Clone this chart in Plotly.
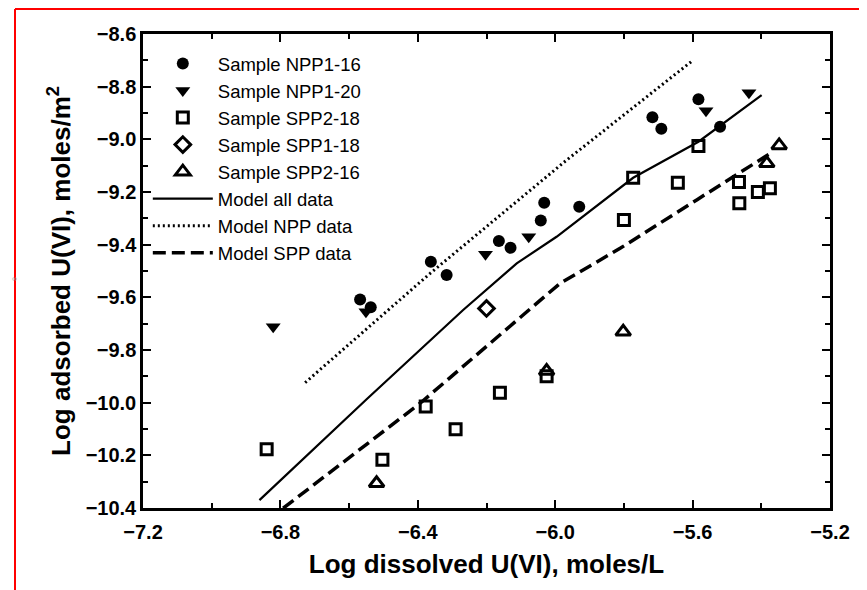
import plotly.graph_objects as go

# ---- data ----
npp116_x = [-6.568, -6.537, -6.362, -6.316, -6.164, -6.130, -6.042, -6.032, -5.930, -5.717, -5.691, -5.583, -5.520]
npp116_y = [-9.608, -9.638, -9.465, -9.515, -9.386, -9.412, -9.308, -9.241, -9.256, -8.916, -8.960, -8.848, -8.952]

npp120_x = [-6.821, -6.551, -6.203, -6.077, -5.561, -5.436]
npp120_y = [-9.712, -9.655, -9.436, -9.370, -8.891, -8.823]

spp218_x = [-6.840, -6.503, -6.377, -6.290, -6.161, -6.025, -5.800, -5.773, -5.643, -5.583, -5.465, -5.464, -5.410, -5.375]
spp218_y = [-10.177, -10.217, -10.015, -10.101, -9.962, -9.900, -9.306, -9.146, -9.165, -9.025, -9.162, -9.243, -9.200, -9.186]

spp118_x = [-6.200]
spp118_y = [-9.642]

spp216_x = [-6.520, -6.025, -5.802, -5.384, -5.348]
spp216_y = [-10.306, -9.880, -9.731, -9.091, -9.023]

model_all_x = [-6.861, -6.549, -6.268, -6.112, -5.996, -5.773, -5.583, -5.399]
model_all_y = [-10.370, -9.987, -9.648, -9.471, -9.370, -9.146, -9.009, -8.832]

model_npp_x = [-6.728, -6.364, -5.967, -5.598]
model_npp_y = [-9.924, -9.509, -9.079, -8.699]

model_spp_x = [-6.792, -6.394, -6.122, -5.986, -5.928, -5.811, -5.588, -5.377]
model_spp_y = [-10.401, -10.003, -9.699, -9.547, -9.503, -9.414, -9.230, -9.056]

x_ticks = [-7.2, -6.8, -6.4, -6.0, -5.6, -5.2]
y_ticks = [-8.6, -8.8, -9.0, -9.2, -9.4, -9.6, -9.8, -10.0, -10.2, -10.4]

FONT = "Liberation Sans, Arial, Helvetica, sans-serif"

fig = go.Figure()

fig.add_trace(go.Scatter(x=npp116_x, y=npp116_y, mode="markers", name="Sample NPP1-16",
                         marker=dict(symbol="circle", size=12, color="black")))
fig.add_trace(go.Scatter(x=npp120_x, y=npp120_y, mode="markers", name="Sample NPP1-20",
                         marker=dict(symbol="triangle-down", size=13, color="black")))
fig.add_trace(go.Scatter(x=spp218_x, y=spp218_y, mode="markers", name="Sample SPP2-18",
                         marker=dict(symbol="square-open", size=11, color="black", line=dict(width=3, color="black"))))
fig.add_trace(go.Scatter(x=spp118_x, y=spp118_y, mode="markers", name="Sample SPP1-18",
                         marker=dict(symbol="diamond-open", size=12, color="black", line=dict(width=3, color="black"))))
fig.add_trace(go.Scatter(x=spp216_x, y=spp216_y, mode="markers", name="Sample SPP2-16",
                         marker=dict(symbol="triangle-up-open", size=13, color="black", line=dict(width=3, color="black"))))
fig.add_trace(go.Scatter(x=model_all_x, y=model_all_y, mode="lines", name="Model all data",
                         line=dict(color="black", width=2.2)))
fig.add_trace(go.Scatter(x=model_npp_x, y=model_npp_y, mode="lines", name="Model NPP data",
                         line=dict(color="black", width=3, dash="2px,3px")))
fig.add_trace(go.Scatter(x=model_spp_x, y=model_spp_y, mode="lines", name="Model SPP data",
                         line=dict(color="black", width=3.5, dash="13px,6px")))

axis_common = dict(
    showgrid=False, zeroline=False, showline=True, linecolor="black", linewidth=2.5,
    mirror="ticks", ticks="inside", ticklen=8, tickwidth=2, tickcolor="black",
    tickfont=dict(family=FONT, size=20, color="black", weight="bold"),
    tickformat=".1f",
)

fig.update_xaxes(
    **axis_common,
    range=[-7.2, -5.2], tickvals=x_ticks, ticklabelstandoff=4,
    minor=dict(dtick=0.2, tick0=-7.2, ticks="inside", ticklen=5, tickwidth=2, tickcolor="black"),
    title=dict(text="Log dissolved U(VI), moles/L",
               font=dict(family=FONT, size=26, color="black", weight="bold"), standoff=14),
)
fig.update_yaxes(
    **axis_common,
    range=[-10.4, -8.6], tickvals=y_ticks,
    minor=dict(dtick=0.1, tick0=-10.4, ticks="inside", ticklen=5, tickwidth=2, tickcolor="black"),
    title=dict(text="Log adsorbed U(VI), moles/m<sup>2</sup>",
               font=dict(family=FONT, size=26, color="black", weight="bold"), standoff=8),
)

# figure geometry (page body adds an 8px offset on screen)
L, R, T, B = 135, 37, 26, 82
W, H = 859, 582
pw, ph = W - L - R, H - T - B
def px_x(p):
    return (p - L) / pw
def px_y(p):
    return 1 - (p - T) / ph

# red frame of the scanned figure
fig.add_shape(type="line", xref="paper", yref="paper",
              x0=px_x(7), x1=px_x(7), y0=px_y(1), y1=px_y(600),
              line=dict(color="red", width=2))
fig.add_shape(type="line", xref="paper", yref="paper",
              x0=px_x(7), x1=px_x(880), y0=px_y(1), y1=px_y(1),
              line=dict(color="red", width=2))
fig.add_annotation(xref="paper", yref="paper", x=px_x(2), y=px_y(270), text="∞",
                   showarrow=False, font=dict(size=7, color="#999999"))

fig.update_layout(
    width=W, height=H,
    margin=dict(l=L, r=R, t=T, b=B),
    paper_bgcolor="white", plot_bgcolor="white",
    font=dict(family=FONT, color="black"),
    showlegend=True,
    legend=dict(x=0.007, y=0.977, xanchor="left", yanchor="top",
                bgcolor="rgba(0,0,0,0)", borderwidth=0,
                font=dict(family=FONT, size=18.5, color="black"),
                itemwidth=60, tracegroupgap=0),
)

fig.write_html("out.html")
